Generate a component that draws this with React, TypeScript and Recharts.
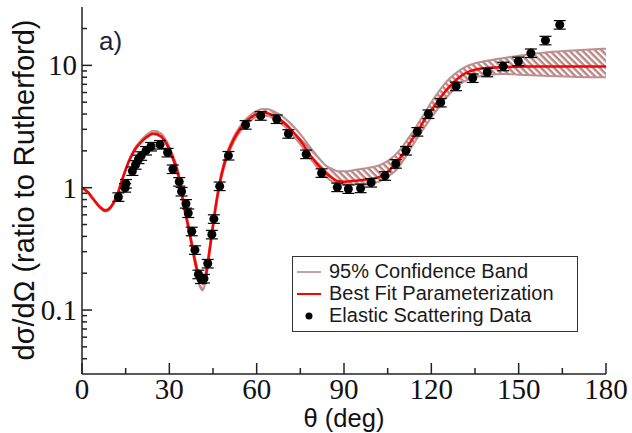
import React from 'react';
import { ComposedChart, Area, Line, Scatter, ErrorBar, XAxis, YAxis } from 'recharts';

// best-fit curve (theta in deg, ratio to Rutherford)
const fitTheta = [0, 2, 4, 6, 8, 10, 12, 14, 16, 18, 20, 22, 24.5, 27, 29, 31, 33, 35, 37, 39, 40.5, 41.5, 42.5, 44, 46, 48, 50, 52, 54, 56, 58, 60, 62, 64, 66, 68, 70, 72, 74, 76, 78, 80, 82, 84, 86, 88, 90, 94, 98, 102, 104, 106, 108, 110, 112, 114, 116, 118, 120, 122, 124, 126, 128, 130, 132, 135, 140, 145, 150, 160, 170, 180];
const fitValue = [1.0, 0.92, 0.8, 0.7, 0.65, 0.7, 0.86, 1.2, 1.62, 2.02, 2.32, 2.57, 2.78, 2.65, 2.3, 1.8, 1.3, 0.72, 0.42, 0.24, 0.175, 0.165, 0.19, 0.33, 0.72, 1.3, 1.9, 2.45, 2.95, 3.4, 3.75, 4.0, 4.1, 4.05, 3.85, 3.6, 3.3, 2.95, 2.6, 2.25, 1.9, 1.65, 1.45, 1.3, 1.2, 1.13, 1.12, 1.14, 1.17, 1.22, 1.3, 1.42, 1.6, 1.85, 2.2, 2.6, 3.1, 3.7, 4.3, 5.0, 5.8, 6.6, 7.4, 8.1, 8.7, 9.2, 9.55, 9.7, 9.75, 9.8, 9.8, 9.8];

// 95% confidence band edges on the same grid
const bandLow = [0.99, 0.91, 0.79, 0.69, 0.64, 0.69, 0.85, 1.18, 1.6, 2.0, 2.3, 2.55, 2.74, 2.6, 2.24, 1.74, 1.25, 0.69, 0.4, 0.225, 0.155, 0.145, 0.175, 0.31, 0.68, 1.23, 1.8, 2.33, 2.8, 3.22, 3.55, 3.8, 3.9, 3.85, 3.65, 3.4, 3.1, 2.75, 2.42, 2.1, 1.78, 1.55, 1.36, 1.22, 1.12, 1.07, 1.06, 1.06, 1.06, 1.12, 1.18, 1.28, 1.4, 1.62, 1.93, 2.3, 2.72, 3.2, 3.75, 4.35, 5.05, 5.75, 6.45, 7.05, 7.55, 8.0, 8.4, 8.5, 8.4, 8.2, 8.05, 8.0];
const bandHigh = [1.01, 0.93, 0.81, 0.71, 0.66, 0.71, 0.88, 1.23, 1.66, 2.08, 2.4, 2.68, 2.92, 2.8, 2.42, 1.9, 1.38, 0.77, 0.45, 0.255, 0.185, 0.175, 0.205, 0.35, 0.76, 1.37, 2.0, 2.58, 3.1, 3.58, 3.95, 4.25, 4.4, 4.38, 4.2, 3.95, 3.65, 3.3, 2.92, 2.55, 2.2, 1.92, 1.68, 1.5, 1.42, 1.36, 1.36, 1.4, 1.45, 1.52, 1.6, 1.72, 1.9, 2.15, 2.52, 2.95, 3.5, 4.2, 5.0, 5.85, 6.8, 7.7, 8.5, 9.2, 9.8, 10.4, 11.0, 11.5, 12.0, 12.8, 13.3, 13.7];

// elastic scattering data
const dataTheta = [12.5, 14.8, 15.1, 17.3, 18.4, 19.4, 20.3, 22.0, 23.7, 26.8, 29.4, 31.2, 33.4, 34.2, 35.7, 36.5, 37.7, 38.8, 40.0, 40.9, 41.9, 43.2, 44.6, 45.3, 47.3, 50.3, 56.2, 61.4, 66.9, 70.9, 77.0, 82.3, 87.7, 91.5, 95.7, 99.3, 104.1, 107.8, 111.3, 115.2, 119.0, 123.2, 128.5, 134.2, 139.2, 144.7, 149.9, 154.2, 159.2, 164.1];
const dataValue = [0.84, 1.0, 1.08, 1.37, 1.54, 1.71, 1.82, 2.01, 2.17, 2.25, 1.94, 1.42, 1.12, 0.93, 0.74, 0.62, 0.44, 0.31, 0.196, 0.179, 0.181, 0.24, 0.415, 0.556, 1.03, 1.83, 3.27, 3.87, 3.64, 2.76, 1.88, 1.32, 1.01, 0.976, 0.99, 1.1, 1.25, 1.57, 2.01, 2.87, 4.0, 4.97, 6.75, 7.88, 8.77, 9.82, 10.8, 12.6, 16.0, 21.5];
const relErr = 0.08;

const xTicks = [0, 15, 30, 45, 60, 75, 90, 105, 120, 135, 150, 165, 180];
const yTicks = [0.04, 0.05, 0.06, 0.07, 0.08, 0.09, 0.1, 0.2, 0.3, 0.4, 0.5, 0.6, 0.7, 0.8, 0.9, 1, 2, 3, 4, 5, 6, 7, 8, 9, 10, 20];

const fitData = fitTheta.map((t, i) => ({ theta: t, fit: fitValue[i], band: [bandLow[i], bandHigh[i]] }));
const pointData = dataTheta.map((t, i) => ({ theta: t, ds: dataValue[i], err: dataValue[i] * relErr }));

const AXIS = '#222';
const serif = '"Liberation Serif", "Times New Roman", serif';
const sans = '"Liberation Sans", Arial, sans-serif';

const isMajorY = (v: number) => Math.abs(Math.log10(v) - Math.round(Math.log10(v))) < 1e-6;

const BottomTick = (props: any) => {
  const { x, y, payload } = props;
  const major = payload.value % 30 === 0;
  return (
    <g>
      <line x1={x} x2={x} y1={y} y2={y - (major ? 11 : 6)} stroke={AXIS} strokeWidth={1.5} />
      {major && (
        <text x={x} y={y + 25} textAnchor="middle" fontFamily={serif} fontSize={29} fill="#111">
          {payload.value}
        </text>
      )}
    </g>
  );
};

const TopTick = (props: any) => {
  const { x, y, payload } = props;
  const major = payload.value % 30 === 0;
  return <line x1={x} x2={x} y1={y} y2={y + (major ? 11 : 6)} stroke={AXIS} strokeWidth={1.5} />;
};

const LeftTick = (props: any) => {
  const { x, y, payload } = props;
  const major = isMajorY(payload.value);
  return (
    <g>
      <line x1={x} x2={x + (major ? 10 : 5)} y1={y} y2={y} stroke={AXIS} strokeWidth={1.5} />
      {major && (
        <text x={x - 5} y={y + 10} textAnchor="end" fontFamily={serif} fontSize={29} fill="#111">
          {payload.value}
        </text>
      )}
    </g>
  );
};

const RightTick = (props: any) => {
  const { x, y, payload } = props;
  const major = isMajorY(payload.value);
  return <line x1={x} x2={x - (major ? 10 : 5)} y1={y} y2={y} stroke={AXIS} strokeWidth={1.5} />;
};

const Dot = (props: any) => {
  const { cx, cy } = props;
  return <circle cx={cx} cy={cy} r={4.5} fill="#000" />;
};

export default function App() {
  return (
    <div style={{ position: 'absolute', left: 0, top: 0, width: 632, height: 433, background: '#fff', overflow: 'hidden' }}>
      <svg width={0} height={0} style={{ position: 'absolute' }}>
        <defs>
          <pattern id="hatch" width={4.6} height={4.6} patternUnits="userSpaceOnUse" patternTransform="rotate(-45)">
            <rect width={4.6} height={4.6} fill="#b98686" />
            <rect x={0} y={0} width={2.2} height={4.6} fill="#ffffff" />
          </pattern>
        </defs>
      </svg>
      <ComposedChart width={632} height={433} margin={{ top: 7, right: 26, bottom: 19, left: 22 }}>
        <XAxis
          xAxisId="b"
          dataKey="theta"
          type="number"
          domain={[0, 180]}
          ticks={xTicks}
          interval={0}
          height={40}
          tickSize={0}
          tickMargin={0}
          tick={<BottomTick />}
          axisLine={{ stroke: AXIS, strokeWidth: 1.5 }}
          allowDataOverflow
        />
        <XAxis
          xAxisId="t"
          orientation="top"
          dataKey="theta"
          type="number"
          domain={[0, 180]}
          ticks={xTicks}
          interval={0}
          height={0}
          tickSize={0}
          tickMargin={0}
          tick={<TopTick />}
          axisLine={{ stroke: AXIS, strokeWidth: 1.5 }}
        />
        <YAxis
          yAxisId="l"
          type="number"
          scale="log"
          domain={[0.03, 30]}
          ticks={yTicks}
          interval={0}
          width={60}
          tickSize={0}
          tickMargin={0}
          tick={<LeftTick />}
          axisLine={{ stroke: AXIS, strokeWidth: 1.5 }}
          allowDataOverflow
        />
        <YAxis
          yAxisId="r"
          orientation="right"
          type="number"
          scale="log"
          domain={[0.03, 30]}
          ticks={yTicks}
          interval={0}
          width={0}
          tickSize={0}
          tickMargin={0}
          tick={<RightTick />}
          axisLine={{ stroke: AXIS, strokeWidth: 1.5 }}
          allowDataOverflow
        />
        <Area
          xAxisId="b"
          yAxisId="l"
          data={fitData}
          dataKey="band"
          type="monotone"
          stroke="#bd9090"
          strokeWidth={2}
          fill="url(#hatch)"
          fillOpacity={1}
          isAnimationActive={false}
          dot={false}
          activeDot={false}
        />
        <Line
          xAxisId="b"
          yAxisId="l"
          data={fitData}
          dataKey="fit"
          type="monotone"
          stroke="#ff0000"
          strokeWidth={2.5}
          dot={false}
          activeDot={false}
          isAnimationActive={false}
        />
        <Scatter
          xAxisId="b"
          yAxisId="l"
          data={pointData}
          dataKey="ds"
          shape={<Dot />}
          isAnimationActive={false}
        >
          <ErrorBar dataKey="err" direction="y" width={6} stroke="#000" strokeWidth={1.2} />
        </Scatter>
      </ComposedChart>

      <div
        style={{
          position: 'absolute', left: 24 - 210, top: 190 - 17, width: 420, height: 34, lineHeight: '34px',
          textAlign: 'center', transform: 'rotate(-90deg)', fontFamily: sans, fontSize: 29, color: '#111',
          whiteSpace: 'nowrap',
        }}
      >
        dσ/dΩ (ratio to Rutherford)
      </div>
      <div
        style={{
          position: 'absolute', left: 244, top: 405, width: 200, height: 26, lineHeight: '26px', textAlign: 'center',
          fontFamily: sans, fontSize: 25.5, color: '#111', whiteSpace: 'nowrap',
        }}
      >
        θ (deg)
      </div>
      <div style={{ position: 'absolute', left: 99, top: 26, fontFamily: sans, fontSize: 26, color: '#1a2440', lineHeight: '30px' }}>
        a)
      </div>

      <div
        style={{
          position: 'absolute', left: 292, top: 256, width: 286, height: 76, border: '1.5px solid #333',
          background: '#fff', fontFamily: sans, fontSize: 20, color: '#1a1a1a', boxSizing: 'border-box',
        }}
      >
        {[
          { label: '95% Confidence Band', kind: 'band' },
          { label: 'Best Fit Parameterization', kind: 'fit' },
          { label: 'Elastic Scattering Data', kind: 'data' },
        ].map((row, i) => (
          <div key={row.label} style={{ position: 'absolute', left: 0, top: 3 + i * 22, height: 22, lineHeight: '22px', whiteSpace: 'nowrap' }}>
            <svg width={30} height={22} style={{ position: 'absolute', left: 2, top: 0 }}>
              {row.kind === 'band' && <line x1={2} x2={26} y1={12} y2={12} stroke="#c9a0a0" strokeWidth={2} />}
              {row.kind === 'fit' && <line x1={2} x2={26} y1={12} y2={12} stroke="#ff0000" strokeWidth={2} />}
              {row.kind === 'data' && <circle cx={14} cy={12} r={3.5} fill="#000" />}
            </svg>
            <span style={{ position: 'absolute', left: 36 }}>{row.label}</span>
          </div>
        ))}
      </div>
    </div>
  );
}
